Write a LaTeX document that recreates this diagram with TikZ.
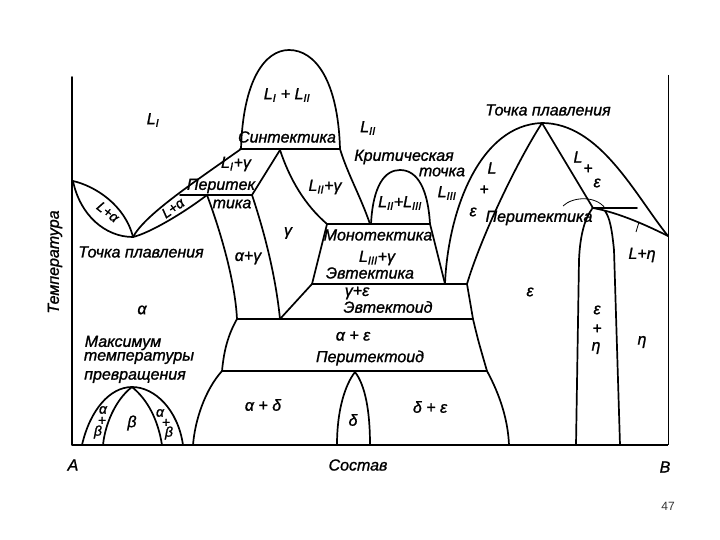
\documentclass[tikz,border=0pt]{standalone}
\usepackage{fontspec}
\setmainfont{Liberation Sans}[ItalicFeatures={FakeBold=1.2}]
\begin{document}
\begin{tikzpicture}[x=1pt,y=-1pt,
  thk/.style={line width=1.7pt, line join=round, line cap=round},
  thn/.style={line width=0.8pt},
  lab/.style={inner sep=0pt, font=\itshape\fontsize{16}{17}\selectfont},
  sml/.style={inner sep=0pt, font=\itshape\fontsize{14}{15}\selectfont},
  ]
\useasboundingbox (0,0) rectangle (720,540);
% axes
\draw[thk] (72,77) -- (72,445);
\draw[line width=1.3pt] (72,445) -- (668,445);
\draw[line width=0.9pt] (668,75) -- (668,445);
% left lenses
\draw[thk] (73,181) .. controls (95,186) and (125,205) .. (133,237);
\draw[thk] (73,181) .. controls (80,215) and (105,237) .. (133,237);
\draw[thk] (133,237) .. controls (145,215) and (190,185) .. (241,149);
\draw[thk] (133,237) .. controls (150,233) and (185,212) .. (207,195);
\draw[thk] (180,195) -- (252,195);
\draw[thk] (207,195) .. controls (220,230) and (235,280) .. (237,319);
\draw[thk] (280,150) -- (252,195);
\draw[thk] (252,195) .. controls (262,225) and (275,270) .. (280,319);
% syntectic
\draw[thk] (240,149) -- (340,149);
\draw[thk] (241,149) .. controls (243,80) and (265,50) .. (289,50) .. controls (315,50) and (338,80) .. (340,149);
\draw[thk] (280,150) .. controls (290,180) and (305,205) .. (327,224);
\draw[thk] (340,149) .. controls (348,175) and (360,195) .. (370,224);
\draw[thk] (371,224) .. controls (373,185) and (385,170) .. (400,170) .. controls (418,170) and (428,190) .. (430,224);
% monotectic / eutectic
\draw[thk] (327,224) -- (430,224);
\draw[thk] (327,224) -- (312,284);
\draw[thk] (430,224) -- (445,284);
\draw[thk] (312,284) -- (467,284);
\draw[thk] (312,284) -- (280,319);
% epsilon liquidus
\draw[thk] (445,284) .. controls (448,210) and (480,125) .. (542,123);
\draw[thk] (542,123) .. controls (600,123) and (635,195) .. (668,236);
\draw[thk] (542,123) .. controls (515,165) and (480,240) .. (467,284);
\draw[thk] (542,123) -- (593,208);
\draw[thk] (467,284) -- (473,319) .. controls (478,340) .. (487,371) .. controls (500,395) and (508,420) .. (509,445);
% eutectoid / peritectoid
\draw[thk] (237,319) -- (473,319);
\draw[thk] (222,371) -- (487,371);
\draw[thk] (237,319) .. controls (228,335) and (224,350) .. (222,371);
\draw[thk] (222,371) .. controls (205,390) and (195,420) .. (193,445);
\draw[thk] (337,445) .. controls (337,410) and (345,385) .. (355,372) .. controls (365,385) and (370,410) .. (370,445);
% alpha+beta
\draw[thk] (82,445) .. controls (90,410) and (110,387) .. (132,387) .. controls (155,387) and (178,410) .. (183,445);
\draw[thk] (132,387) .. controls (115,400) and (105,425) .. (103,445);
\draw[thk] (132,387) .. controls (148,400) and (158,420) .. (162,445);
% right side
\draw[thk] (592,208) -- (637,208);
\draw[thk] (593,208) .. controls (615,212) and (640,222) .. (668,236);
\draw[thk] (576,445) -- (579,260) .. controls (580,235) and (585,218) .. (592,209);
\draw[thk] (620,445) -- (614,250) .. controls (612,230) and (610,218) .. (605,211);
\draw[thn] (563,206) .. controls (572,197) and (595,195) .. (605,208);
\draw[thn] (639,222) -- (636,232);
% labels
\node[lab] (l1) at (153,120) {L\textsubscript{I}};
\node[lab] (l1l2) at (287,95) {L\textsubscript{I} + L\textsubscript{II}};
\node[lab] (synt) at (287,137) {Синтектика};
\node[lab] (l2) at (368,128) {L\textsubscript{II}};
\node[lab] (crit1) at (404,157) {Критическая};
\node[lab] (crit2) at (442,172) {точка};
\node[lab] (l3) at (447,193) {L\textsubscript{III}};
\node[lab] (l1g) at (236,164) {L\textsubscript{I}+γ};
\node[lab] (per1) at (221,186) {Перитек};
\node[lab] (per2) at (232,204) {тика};
\node[lab] (ag) at (248,258) {α+γ};
\node[lab] (g) at (288,233) {γ};
\node[lab] (l2g) at (325,187) {L\textsubscript{II}+γ};
\node[lab] (l2l3) at (400,203) {L\textsubscript{II}+L\textsubscript{III}};
\node[lab] (mono) at (378,235) {Монотектика};
\node[lab] (l3g) at (377,258) {L\textsubscript{III}+γ};
\node[lab] (eut) at (370,273) {Эвтектика};
\node[lab] (ge) at (357,293) {γ+ε};
\node[lab] (eutd) at (388,307) {Эвтектоид};
\node[lab] (ae) at (353,336) {α + ε};
\node[lab] (perd) at (370,358) {Перитектоид};
\node[lab] (ad) at (263,405) {α + δ};
\node[lab] (d) at (353,420) {δ};
\node[lab] (de) at (430,407) {δ + ε};
\node[lab] (alpha) at (142,310) {α};
\node[lab] (max1) at (123,343) {Максимум};
\node[lab] (max2) at (139,358) {температуры};
\node[lab] (max3) at (135,377) {превращения};
\node[lab] (melt1) at (141,252) {Точка плавления};
\node[sml, rotate=-38] (la1) at (108,212) {L+α};
\node[sml, rotate=35] (la2) at (173,208) {L+α};
\node[lab] (le1) at (492,168) {L};
\node[lab] (le2) at (484,190) {+};
\node[lab] (le3) at (473,212) {ε};
\node[lab] (re1) at (578,157) {L};
\node[lab] (re2) at (588,169) {+};
\node[lab] (re3) at (597,183) {ε};
\node[lab] (per3) at (539,218) {Перитектика};
\node[lab] (melt2) at (548,110) {Точка плавления};
\node[lab] (leta) at (642,255) {L+η};
\node[lab] (eps) at (530,292) {ε};
\node[lab] (en1) at (597,310) {ε};
\node[lab] (en2) at (597,329) {+};
\node[lab] (en3) at (596,348) {η};
\node[lab] (eta) at (642,342) {η};
\node[sml] (ab1) at (103,410) {α};
\node[sml] (ab2) at (102,421) {+};
\node[sml] (ab3) at (98,432) {β};
\node[lab] (beta) at (132,423) {β};
\node[sml] (ab4) at (160,413) {α};
\node[sml] (ab5) at (166,423) {+};
\node[sml] (ab6) at (169,433) {β};
\node[lab] (A) at (73,465) {A};
\node[lab] (B) at (665,467) {В};
\node[lab] (comp) at (358,465) {Состав};
\node[lab, rotate=90] (temp) at (55,262) {Температура};
\node[inner sep=0pt, font=\fontsize{12}{12}\selectfont, text=black!80] (pg) at (668,506) {47};
\end{tikzpicture}
\end{document}
